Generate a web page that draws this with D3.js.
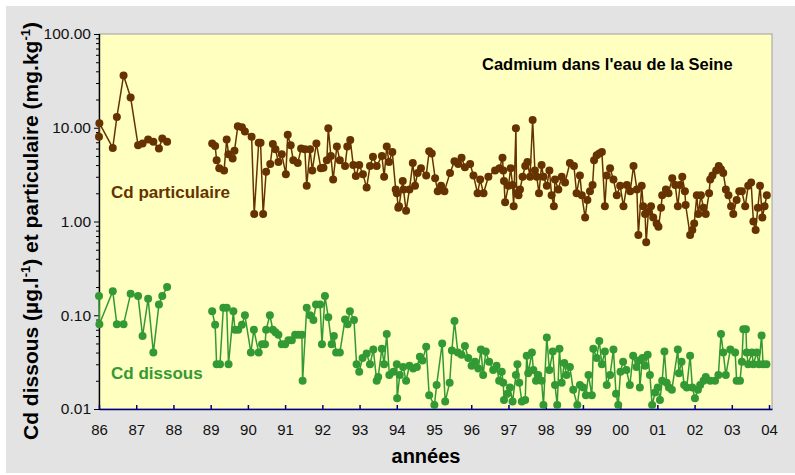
<!DOCTYPE html>
<html>
<head>
<meta charset="utf-8">
<script src="https://cdn.jsdelivr.net/npm/d3@7"></script>
<style>
  html, body { margin: 0; padding: 0; background: #ffffff; }
  svg { display: block; font-family: "Liberation Sans", Arial, sans-serif; }
</style>
</head>
<body>
<svg id="chart" width="795" height="475"></svg>
<script>
// Cadmium in the Seine: particulate (mg/kg) and dissolved (µg/l), 1986-2004.
// Years are counted from 1900 (86 = 1986, 100 = 2000); null breaks the line.
const partYears = [
  86.00, 86.01, 86.37, 86.48, 86.66, 86.85, 87.05, 87.17, 87.32, 87.46, 87.61, 87.70, 87.83,
  88.40,
  89.04, 89.12, 89.16, 89.23, 89.36, 89.43, 89.48, 89.59, 89.64, 89.73, 89.84, 89.92,
  90.10, 90.17, 90.29, 90.34, 90.41, 90.49, 90.60, 90.67, 90.74, 90.82, 90.91,
  91.02, 91.07, 91.15, 91.22, 91.34, 91.43, 91.53, 91.58, 91.67, 91.73, 91.84, 91.96,
  92.03, 92.12, 92.16, 92.23, 92.29, 92.39, 92.47, 92.61, 92.67, 92.75, 92.83, 92.90, 92.99,
  93.09, 93.19, 93.28, 93.36, 93.46, 93.60, 93.66, 93.73, 93.79, 93.88, 93.97,
  94.00, 94.04, 94.06, 94.16, 94.18, 94.25, 94.34, 94.43, 94.49, 94.56, 94.65, 94.79, 94.87, 94.94,
  95.03, 95.10, 95.19, 95.28, 95.43, 95.55, 95.65, 95.74, 95.83, 95.97,
  96.06, 96.17, 96.24, 96.33, 96.46, 96.64, 96.76, 96.84, 96.86, 96.88, 96.91,
  97.00, 97.06, 97.11, 97.14, 97.20, 97.22, 97.27, 97.31, 97.38, 97.45, 97.51, 97.58, 97.65,
  97.71, 97.76, 97.82, 97.89, 97.94,
  98.03, 98.10, 98.16, 98.22, 98.25, 98.34, 98.43, 98.52, 98.65, 98.76, 98.83, 98.92, 98.97,
  99.06, 99.12, 99.19, 99.26, 99.30, 99.37, 99.44, 99.51, 99.59, 99.64, 99.73, 99.82, 99.91,
  100.00, 100.09, 100.18, 100.27, 100.36, 100.45, 100.49, 100.58, 100.62, 100.67, 100.70,
  100.76, 100.83, 100.89, 100.98,
  101.03, 101.10, 101.13, 101.23, 101.30, 101.40, 101.48, 101.55, 101.61, 101.67, 101.74,
  101.76, 101.88, 101.94, 101.99,
  102.06, 102.10, 102.17, 102.24, 102.30, 102.39, 102.42, 102.48, 102.58, 102.65, 102.71,
  102.77, 102.84, 102.91, 102.98,
  103.04, 103.13, 103.20, 103.27, 103.36, 103.44, 103.52, 103.58, 103.64, 103.70, 103.76,
  103.82, 103.88, 103.94
];
const partValues = [
  8.0, 11.2, 6.1, 13, 36, 21, 6.5, 6.8, 7.5, 7.1, 6.0, 7.7, 7.1,
  null,
  6.8, 6.4, 4.5, 3.7, 3.5, 7.5, 5.2, 4.7, 5.7, 10.4, 10.1, 9.1,
  8.0, 1.2, 6.9, 6.9, 1.2, 3.4, 4.1, 6.7, 5.9, 4.3, 5.2,
  3.2, 8.4, 6.5, 4.5, 4.2, 6.0, 5.9, 2.4, 5.9, 3.5, 6.8, 3.7,
  3.75, 4.5, 9.9, 5.0, 2.8, 6.3, 4.5, 3.9, 6.3, 7.4, 4.0, 3.05, 4.0,
  3.2, 2.3, 3.9, 4.9, 3.9, 5.0, 3.0, 6.3, 4.3, 5.5, 2.2,
  2.0, 1.4, 1.45, 2.7, 2.2, 1.3, 2.2, 4.2, 2.4, 3.3, 3.7, 3.1, 5.6, 5.3,
  2.9, 2.1, 2.4, 2.1, 3.3, 4.4, 4.1, 4.8, 3.8, 4.1,
  3.1, 2.0, 2.8, 2.0, 3.0, 3.5, 3.7, 4.8, 3.5, 2.7, 1.6,
  2.4, 3.7, 2.45, 1.45, 9.9, 2.0, 1.9, 2.2, 3.0, 3.9, 4.3, 3.0, 12.1,
  3.5, 3.0, 2.0, 4.0, 3.0,
  2.4, 3.5, 1.9, 1.45, 2.8, 2.2, 3.0, 2.6, 4.2, 3.9, 2.0, 3.1, 1.9,
  1.1, 1.7, 2.1, 2.45, 4.5, 5.1, 5.3, 5.5, 1.45, 3.1, 3.7, 2.8, 1.9,
  2.4, 1.45, 2.45, 2.1, 3.9, 2.2, 0.72, 2.4, 1.45, 1.2, 0.6,
  1.27, 1.45, 1.1, 0.95,
  0.88, 1.4, 1.9, 2.2, 2.0, 2.9, 2.45, 1.45, 2.45, 3.0, 2.1,
  1.5, 0.72, 0.81, 0.95,
  1.9, 1.2, 1.9, 1.4, 1.2, 2.0, 2.8, 3.1, 3.5, 3.9, 3.6,
  3.3, 2.2, 1.9, 1.45,
  1.2, 1.7, 2.1, 2.1, 1.45, 2.4, 2.6, 1.0, 0.81, 1.4, 2.4,
  1.1, 1.45, 1.9
];

const dissYears = [
  86.00, 86.01, 86.37, 86.48, 86.66, 86.85, 87.05, 87.17, 87.32, 87.46, 87.61, 87.70, 87.83,
  88.40,
  89.04, 89.12, 89.16, 89.25, 89.34, 89.43, 89.48, 89.61, 89.65, 89.74, 89.84, 89.92,
  90.08, 90.16, 90.29, 90.38, 90.46, 90.49, 90.59, 90.67, 90.74, 90.82, 90.91,
  91.00, 91.09, 91.18, 91.27, 91.36, 91.45, 91.47, 91.58, 91.67, 91.76, 91.83, 91.94, 91.99,
  92.07, 92.16, 92.25, 92.31, 92.37, 92.47, 92.61, 92.68, 92.74, 92.85, 92.92, 92.99,
  93.08, 93.19, 93.28, 93.37, 93.46, 93.50, 93.60, 93.66, 93.73, 93.80, 93.91,
  94.00, 94.01, 94.08, 94.17, 94.25, 94.34, 94.44, 94.54, 94.62, 94.69, 94.79, 94.87,
  95.01, 95.07, 95.22, 95.30, 95.42, 95.48, 95.55, 95.64, 95.74, 95.83, 95.92,
  96.01, 96.10, 96.19, 96.26, 96.32, 96.39, 96.48, 96.59, 96.68, 96.75, 96.82, 96.86, 96.88, 96.97,
  97.04, 97.11, 97.20, 97.24, 97.29, 97.36, 97.45, 97.49, 97.53, 97.63, 97.67, 97.74, 97.80,
  97.89, 97.94,
  98.03, 98.10, 98.19, 98.25, 98.31, 98.37, 98.43, 98.50, 98.56, 98.65, 98.74, 98.85, 98.92,
  99.01, 99.08, 99.15, 99.24, 99.28, 99.37, 99.44, 99.51, 99.59, 99.64, 99.73, 99.82, 99.89, 99.95,
  100.01, 100.08, 100.17, 100.26, 100.35, 100.44, 100.51, 100.53, 100.60, 100.67, 100.74,
  100.80, 100.86, 100.94,
  101.01, 101.07, 101.13, 101.19, 101.25, 101.31, 101.39, 101.55, 101.58, 101.65, 101.72,
  101.79, 101.88, 101.94,
  102.01, 102.09, 102.15, 102.24, 102.30, 102.42, 102.55, 102.64, 102.71, 102.77, 102.84, 102.96,
  103.09, 103.13, 103.22, 103.27, 103.31, 103.38, 103.40, 103.44, 103.54, 103.58, 103.67,
  103.73, 103.80, 103.84, 103.93
];
const dissValues = [
  0.16, 0.08, 0.18, 0.08, 0.08, 0.17, 0.16, 0.06, 0.15, 0.04, 0.13, 0.16, 0.20,
  null,
  0.11, 0.079, 0.030, 0.030, 0.12, 0.12, 0.030, 0.11, 0.070, 0.070, 0.079, 0.10,
  0.040, 0.070, 0.040, 0.049, 0.049, 0.070, 0.10, 0.070, 0.066, 0.062, 0.049,
  0.049, 0.054, 0.054, 0.062, 0.062, 0.062, 0.020, 0.12, 0.10, 0.089, 0.13, 0.13, 0.049,
  0.16, 0.095, 0.049, 0.060, 0.040, 0.040, 0.090, 0.080, 0.11, 0.089, 0.030, 0.025,
  0.035, 0.039, 0.030, 0.043, 0.020, 0.022, 0.044, 0.030, 0.063, 0.023, 0.025,
  0.030, 0.013, 0.023, 0.028, 0.020, 0.029, 0.027, 0.028, 0.036, 0.033, 0.046, 0.014,
  0.011, 0.018, 0.050, 0.012, 0.019, 0.042, 0.087, 0.040, 0.038, 0.047, 0.035,
  0.029, 0.032, 0.027, 0.043, 0.023, 0.041, 0.032, 0.026, 0.029, 0.020, 0.025, 0.019, 0.0125, 0.0145,
  0.017, 0.012, 0.023, 0.030, 0.019, 0.012, 0.0125, 0.037, 0.024, 0.040, 0.026, 0.020, 0.023,
  0.020, 0.011,
  0.058, 0.026, 0.041, 0.018, 0.011, 0.044, 0.019, 0.031, 0.023, 0.028, 0.016, 0.011, 0.018,
  0.017, 0.014, 0.023, 0.014, 0.044, 0.035, 0.053, 0.030, 0.041, 0.018, 0.023, 0.043, 0.0145, 0.011,
  0.025, 0.032, 0.026, 0.018, 0.037, 0.028, 0.033, 0.017, 0.035, 0.029, 0.038,
  0.023, 0.011, 0.015,
  0.017, 0.0125, 0.020, 0.041, 0.019, 0.017, 0.016, 0.043, 0.024, 0.032, 0.018,
  0.017, 0.037, 0.017,
  0.013, 0.016, 0.018, 0.020, 0.022, 0.020, 0.020, 0.023, 0.063, 0.040, 0.023, 0.043,
  0.040, 0.020, 0.020, 0.032, 0.071, 0.071, 0.040, 0.030, 0.040, 0.030, 0.040,
  0.030, 0.061, 0.030, 0.030
];

const yearTicks = [86, 87, 88, 89, 90, 91, 92, 93, 94, 95, 96, 97, 98, 99, 100, 101, 102, 103, 104];
const yearLabels = ["86", "87", "88", "89", "90", "91", "92", "93", "94", "95", "96", "97", "98", "99", "00", "01", "02", "03", "04"];
const valueTicks = [0.01, 0.1, 1, 10, 100];
const valueLabels = ["0.01", "0.10", "1.00", "10.00", "100.00"];

const brown = "#663300";
const green = "#339933";

const svg = d3.select("#chart");
const plot = { left: 99, top: 34, right: 772, bottom: 409 };

// frame
svg.append("rect").attr("x", 6).attr("y", 6).attr("width", 789).attr("height", 467)
  .attr("fill", "#e3e3e3");
svg.append("rect").attr("x", plot.left).attr("y", plot.top)
  .attr("width", plot.right - plot.left).attr("height", plot.bottom - plot.top)
  .attr("fill", "#ffffc0").attr("stroke", "#a0a0a0").attr("stroke-width", 1);

const x = d3.scaleLinear().domain([86, 104.08]).range([plot.left, plot.right]);
const y = d3.scaleLog().domain([0.01, 100]).range([plot.bottom, plot.top]);

// y axis: labelled decades plus unlabelled minor ticks
const minor = [];
for (let d = 0.01; d < 100; d *= 10) {
  for (let k = 2; k <= 9; k++) minor.push(+(d * k).toPrecision(3));
}
const yAxis = svg.append("g").attr("transform", `translate(${plot.left},0)`)
  .call(d3.axisLeft(y).tickValues(valueTicks).tickSize(5).tickPadding(3)
    .tickFormat((d, i) => valueLabels[i]));
const yMinor = svg.append("g").attr("transform", `translate(${plot.left},0)`)
  .call(d3.axisLeft(y).tickValues(minor).tickSize(3).tickFormat(""));
[yAxis, yMinor].forEach(g => {
  g.select(".domain").attr("stroke", "#000").attr("stroke-width", 1.2);
  g.selectAll(".tick line").attr("stroke", "#000");
});
yAxis.selectAll("text").attr("font-size", 15.5).attr("fill", "#111")
  .attr("font-family", "Liberation Sans, Arial, sans-serif");

// x axis: ticks point into the plot
const xAxis = svg.append("g").attr("transform", `translate(0,${plot.bottom})`)
  .call(d3.axisBottom(x).tickValues(yearTicks).tickSize(-4).tickSizeOuter(0).tickPadding(15)
    .tickFormat((d, i) => yearLabels[i]));
xAxis.select(".domain").attr("stroke", "#000080").attr("stroke-width", 1.5);
xAxis.selectAll(".tick line").attr("stroke", "#000080").attr("stroke-width", 1.5);
xAxis.selectAll("text").attr("font-size", 15).attr("fill", "#111")
  .attr("font-family", "Liberation Sans, Arial, sans-serif");

// series
function drawSeries(years, values, color) {
  const pts = years.map((t, i) => ({ t, v: values[i] }));
  const line = d3.line().defined(d => d.v != null).x(d => x(d.t)).y(d => y(d.v));
  svg.append("path").datum(pts).attr("d", line)
    .attr("fill", "none").attr("stroke", color).attr("stroke-width", 1.5);
  svg.append("g").selectAll("circle").data(pts.filter(d => d.v != null)).join("circle")
    .attr("cx", d => x(d.t)).attr("cy", d => y(d.v)).attr("r", 4).attr("fill", color);
}
drawSeries(partYears, partValues, brown);
drawSeries(dissYears, dissValues, green);

// text
svg.append("text").attr("x", 482).attr("y", 70).attr("font-size", 16.5).attr("font-weight", "bold")
  .attr("fill", "#000").text("Cadmium dans l'eau de la Seine");
svg.append("text").attr("x", 111).attr("y", 198).attr("font-size", 17).attr("font-weight", "bold")
  .attr("fill", brown).text("Cd particulaire");
svg.append("text").attr("x", 111).attr("y", 379).attr("font-size", 17).attr("font-weight", "bold")
  .attr("fill", green).text("Cd dissous");

svg.append("text").attr("x", 426).attr("y", 463).attr("text-anchor", "middle")
  .attr("font-size", 20).attr("font-weight", "bold").attr("fill", "#000").text("années");

const yTitle = svg.append("text").attr("transform", "translate(38,231) rotate(-90)")
  .attr("text-anchor", "middle").attr("font-size", 21).attr("font-weight", "bold").attr("fill", "#000");
yTitle.append("tspan").text("Cd dissous (µg.l");
yTitle.append("tspan").attr("dy", -8).attr("font-size", 13).text("-1");
yTitle.append("tspan").attr("dy", 8).text(") et particulaire (mg.kg");
yTitle.append("tspan").attr("dy", -8).attr("font-size", 13).text("-1");
yTitle.append("tspan").attr("dy", 8).text(")");
</script>
</body>
</html>
